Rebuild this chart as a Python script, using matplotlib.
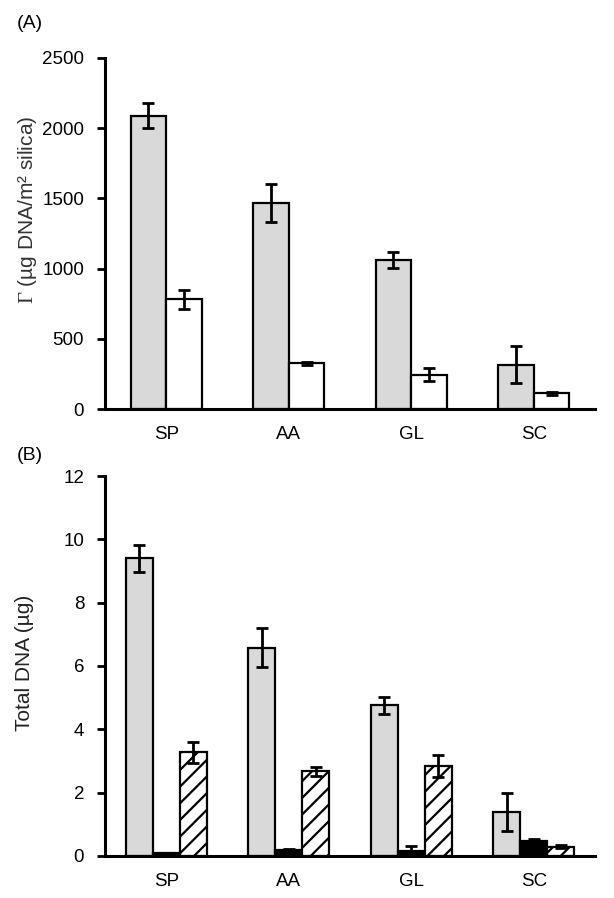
import matplotlib
matplotlib.use("Agg")
import matplotlib.pyplot as plt
import numpy as np

plt.rcParams['font.family'] = ['Liberation Sans', 'DejaVu Sans']
plt.rcParams['hatch.linewidth'] = 1.6
plt.rcParams['mathtext.fontset'] = 'custom'
plt.rcParams['mathtext.rm'] = 'Liberation Serif'

categories = ["SP", "AA", "GL", "SC"]

# Panel A: surface coverage (µg DNA / m² silica)
a_gray = [2090, 1465, 1060, 316]
a_gray_err = [92, 135, 55, 133]
a_white = [780, 325, 245, 112]
a_white_err = [65, 12, 45, 12]

# Panel B: total DNA (µg)
b_gray = [9.40, 6.58, 4.76, 1.40]
b_gray_err = [0.42, 0.62, 0.26, 0.60]
b_black = [0.08, 0.18, 0.17, 0.47]
b_black_err = [0.03, 0.05, 0.14, 0.08]
b_hatch = [3.27, 2.67, 2.85, 0.30]
b_hatch_err = [0.34, 0.14, 0.35, 0.05]

a_yticks = [0, 500, 1000, 1500, 2000, 2500]
b_yticks = [0, 2, 4, 6, 8, 10, 12]

W, H = 614, 898
fig = plt.figure(figsize=(W / 100, H / 100), dpi=100)

axA = fig.add_axes([105 / W, 1 - 409 / H, 490 / W, 351 / H])
axB = fig.add_axes([105 / W, 1 - 856 / H, 490 / W, 380 / H])

x = np.arange(len(categories))
edge = dict(edgecolor='black', linewidth=1.6)
ekw = dict(elinewidth=2.0, capthick=2.0, capsize=4.5, ecolor='black')

# Panel A
wa = 0.29
axA.bar(x - wa / 2, a_gray, wa, color='#d9d9d9', yerr=a_gray_err, error_kw=ekw, **edge)
axA.bar(x + wa / 2, a_white, wa, color='white', yerr=a_white_err, error_kw=ekw, **edge)
axA.set_ylim(0, 2500)
axA.set_yticks(a_yticks)

# Panel B
wb = 0.22
axB.bar(x - wb, b_gray, wb, color='#d9d9d9', yerr=b_gray_err, error_kw=ekw, **edge)
axB.bar(x, b_black, wb, color='black', yerr=b_black_err, error_kw=ekw, **edge)
axB.bar(x + wb, b_hatch, wb, color='white', hatch='//', yerr=b_hatch_err, error_kw=ekw, **edge)
axB.set_ylim(0, 12)
axB.set_yticks(b_yticks)

for ax in (axA, axB):
    ax.set_xlim(-0.5, 3.5)
    ax.set_xticks(x)
    ax.set_xticklabels(categories)
    for s in ('top', 'right'):
        ax.spines[s].set_visible(False)
    for s in ('left', 'bottom'):
        ax.spines[s].set_linewidth(2.2)
    ax.tick_params(axis='y', direction='out', length=6, width=2, pad=9, labelsize=13.5)
    ax.tick_params(axis='x', length=0, pad=12, labelsize=13.5)

fig.text(28 / W, 1 - 210 / H, r"$\mathrm{\Gamma}$ (µg DNA/m² silica)", rotation=90,
         ha='center', va='center', fontsize=15, color='#333333')
fig.text(25 / W, 1 - 663 / H, "Total DNA (µg)", rotation=90, ha='center', va='center',
         fontsize=15, color='#222222')
fig.text(17 / W, 1 - 24 / H, "(A)", ha='left', va='center', fontsize=14)
fig.text(17 / W, 1 - 455 / H, "(B)", ha='left', va='center', fontsize=14)

fig.savefig("out.png", dpi=100, facecolor='white')
